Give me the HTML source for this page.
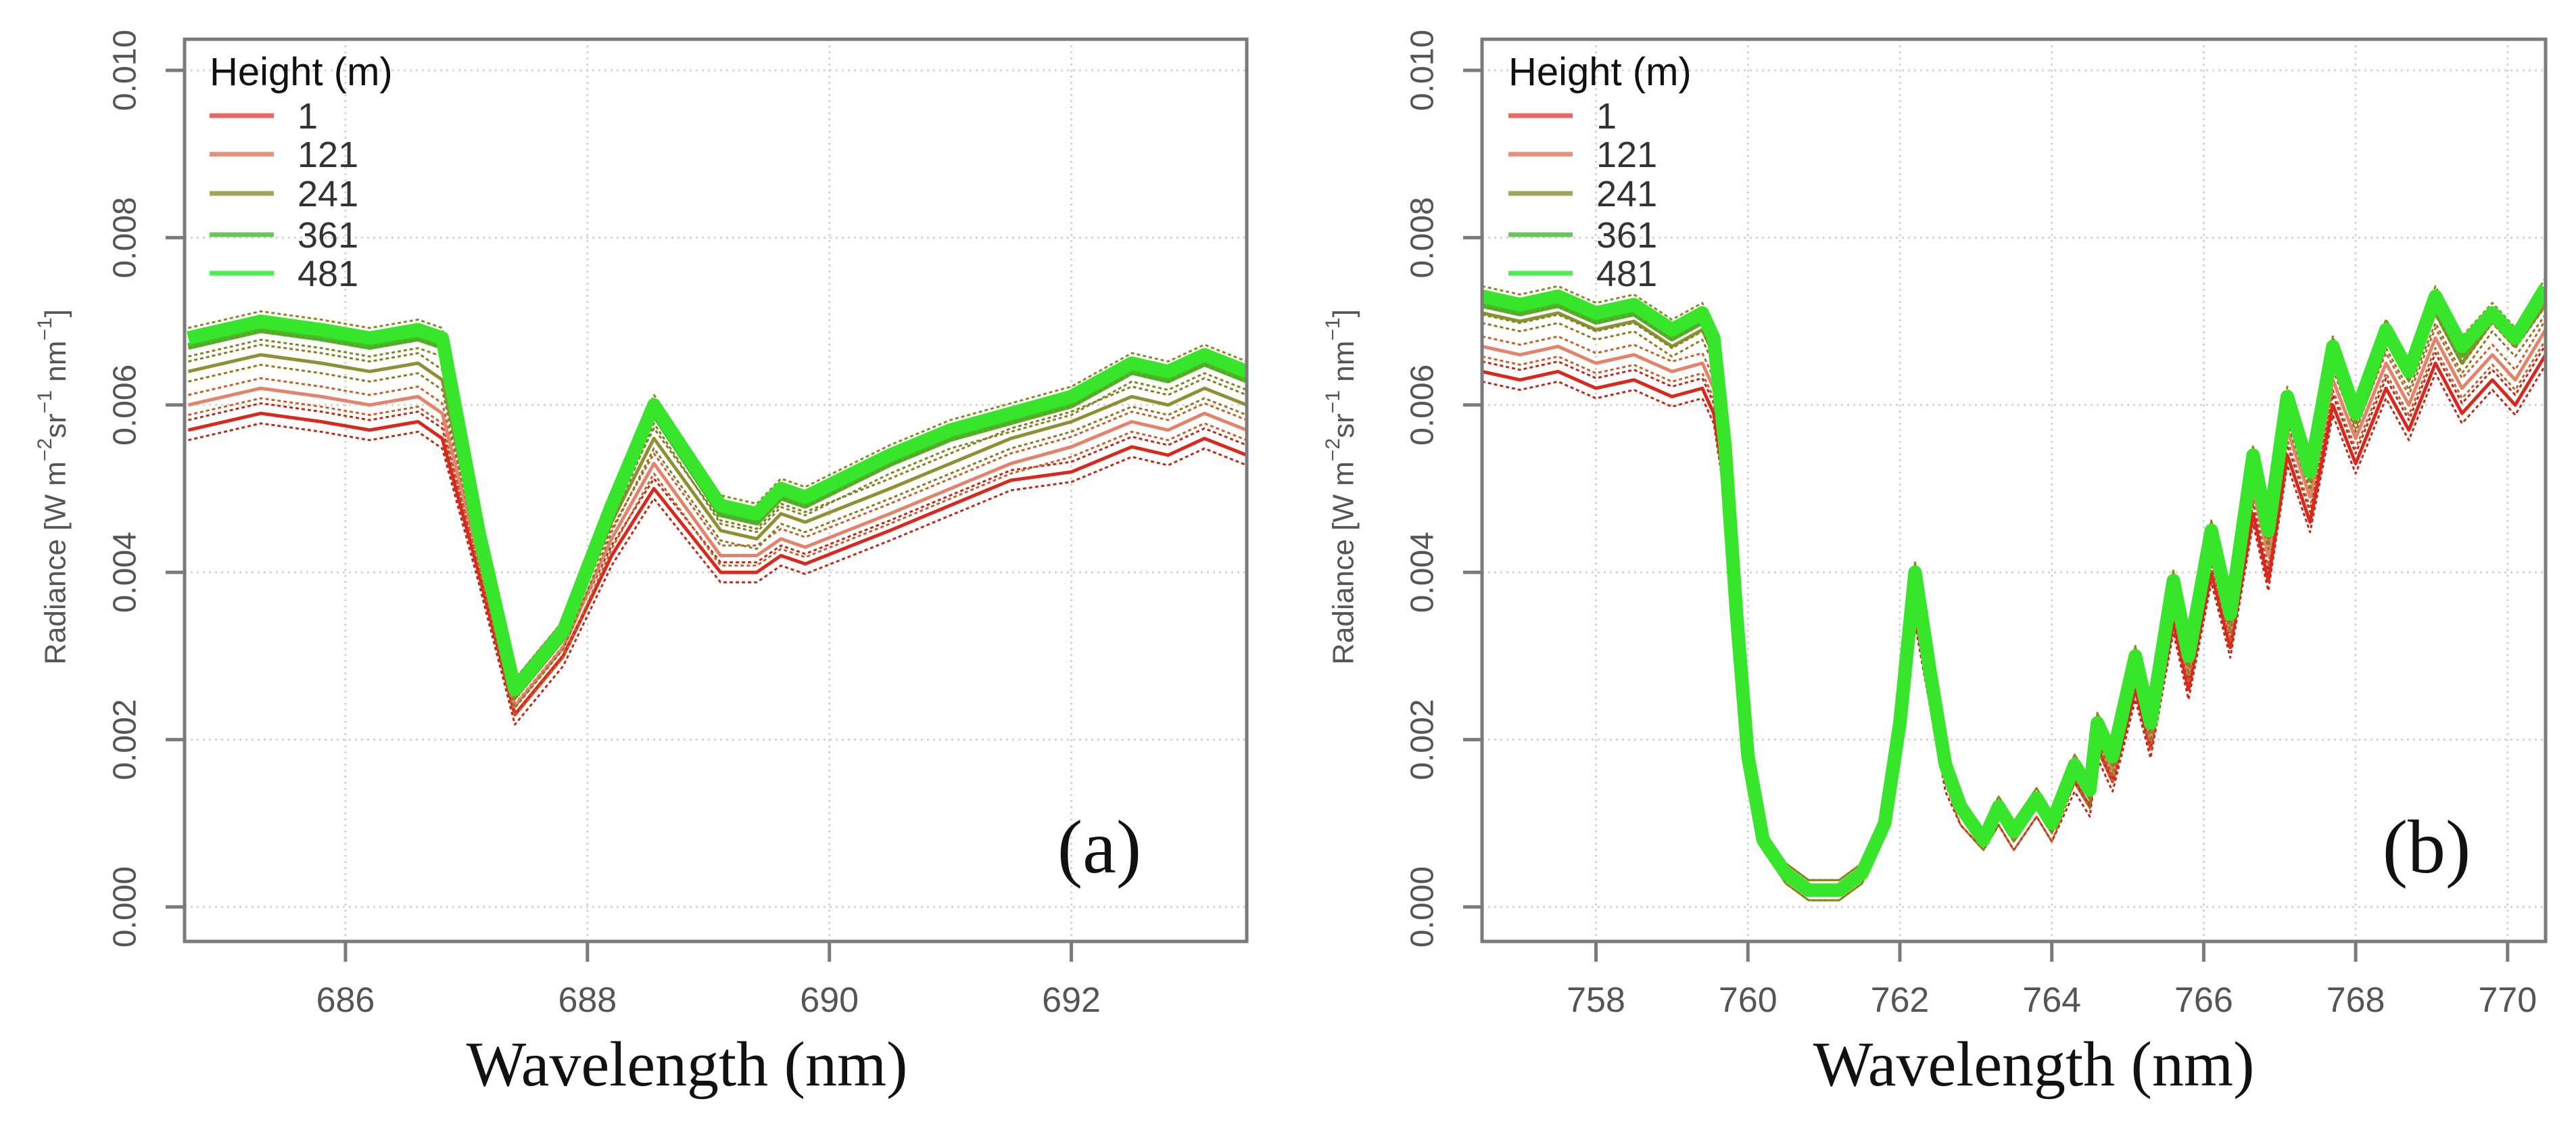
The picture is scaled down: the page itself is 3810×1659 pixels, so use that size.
<!DOCTYPE html>
<html><head><meta charset="utf-8"><style>
html,body{margin:0;padding:0;background:#fff;}
svg{display:block;font-family:"Liberation Sans",Arial,sans-serif;}
</style></head><body>
<svg id="chart" width="3810" height="1659" viewBox="0 0 3810 1659" xmlns="http://www.w3.org/2000/svg"></svg>
<script>
// ---------- Panel (a) data ----------
const wlA = [684.7,685.3,685.8,686.2,686.6,686.8,687.1,687.4,687.8,688.2,688.55,689.1,689.4,689.6,689.8,690.5,691.0,691.5,692.0,692.5,692.8,693.1,693.45];
const a_h1   = [0.0057,0.0059,0.0058,0.0057,0.0058,0.0056,0.0040,0.0023,0.0030,0.0042,0.0050,0.0040,0.0040,0.0042,0.0041,0.0045,0.0048,0.0051,0.0052,0.0055,0.0054,0.0056,0.0054];
const a_h121 = [0.0060,0.0062,0.0061,0.0060,0.0061,0.0059,0.0042,0.0024,0.0031,0.0044,0.0053,0.0042,0.0042,0.0044,0.0043,0.0047,0.0050,0.0053,0.0055,0.0058,0.0057,0.0059,0.0057];
const a_h241 = [0.0064,0.0066,0.0065,0.0064,0.0065,0.0063,0.0043,0.0025,0.0032,0.0046,0.0056,0.0045,0.0044,0.0047,0.0046,0.0050,0.0053,0.0056,0.0058,0.0061,0.0060,0.0062,0.0060];
const a_h361 = [0.0067,0.0069,0.0068,0.0067,0.0068,0.0067,0.0045,0.0026,0.0033,0.0047,0.0059,0.0047,0.0046,0.0049,0.0048,0.0053,0.0056,0.0058,0.0060,0.0064,0.0063,0.0065,0.0063];
const a_h481 = [0.0068,0.0070,0.0069,0.0068,0.0069,0.0068,0.0045,0.0026,0.0033,0.0048,0.0060,0.0048,0.0047,0.0050,0.0049,0.0054,0.0057,0.0059,0.0061,0.0065,0.0064,0.0066,0.0064];
// ---------- Panel (b) data ----------
const wlB = [756.5,757.0,757.5,758.0,758.5,759.0,759.4,759.55,759.7,759.85,760.0,760.2,760.5,760.8,761.2,761.5,761.8,762.0,762.2,762.4,762.6,762.8,763.1,763.3,763.5,763.8,764.0,764.3,764.5,764.6,764.8,765.1,765.3,765.6,765.8,766.1,766.35,766.65,766.85,767.1,767.4,767.7,768.0,768.4,768.7,769.05,769.4,769.8,770.1,770.5];
const b_h1   = [0.0064,0.0063,0.0064,0.0062,0.0063,0.0061,0.0062,0.0059,0.0050,0.0033,0.0017,0.0008,0.0004,0.0002,0.0002,0.0004,0.0010,0.0020,0.0035,0.0025,0.0015,0.0011,0.0008,0.0011,0.0008,0.0012,0.0009,0.0015,0.0012,0.0019,0.0015,0.0026,0.0019,0.0034,0.0026,0.0040,0.0031,0.0047,0.0039,0.0054,0.0046,0.0060,0.0053,0.0062,0.0057,0.0065,0.0059,0.0063,0.0060,0.0066];
const b_h121 = [0.0067,0.0066,0.0067,0.0065,0.0066,0.0064,0.0065,0.0062,0.0052,0.0034,0.0017,0.0008,0.0004,0.0002,0.0002,0.0004,0.0010,0.0021,0.0037,0.0026,0.0016,0.0011,0.0008,0.0011,0.0008,0.0012,0.0009,0.0016,0.0013,0.0020,0.0016,0.0028,0.0020,0.0036,0.0028,0.0042,0.0033,0.0050,0.0042,0.0057,0.0049,0.0063,0.0056,0.0065,0.0060,0.0068,0.0062,0.0066,0.0063,0.0069];
const b_h241 = [0.0071,0.0070,0.0071,0.0069,0.0070,0.0067,0.0069,0.0066,0.0054,0.0035,0.0018,0.0008,0.0004,0.0002,0.0002,0.0004,0.0010,0.0022,0.0039,0.0027,0.0017,0.0012,0.0008,0.0012,0.0009,0.0013,0.0010,0.0017,0.0013,0.0021,0.0017,0.0029,0.0021,0.0038,0.0029,0.0044,0.0034,0.0052,0.0044,0.0059,0.0051,0.0066,0.0058,0.0068,0.0063,0.0071,0.0065,0.0070,0.0067,0.0072];
const b_h361 = [0.0072,0.0071,0.0072,0.0070,0.0071,0.0068,0.0070,0.0067,0.0055,0.0035,0.0018,0.0008,0.0004,0.0002,0.0002,0.0004,0.0010,0.0022,0.0040,0.0028,0.0017,0.0012,0.0008,0.0012,0.0009,0.0013,0.0010,0.0017,0.0014,0.0022,0.0018,0.0030,0.0022,0.0039,0.0030,0.0045,0.0035,0.0053,0.0045,0.0060,0.0052,0.0067,0.0059,0.0069,0.0064,0.0072,0.0066,0.0071,0.0068,0.0073];
const b_h481 = [0.0073,0.0072,0.0073,0.0071,0.0072,0.0069,0.0071,0.0068,0.0055,0.0035,0.0018,0.0008,0.0004,0.0002,0.0002,0.0004,0.0010,0.0022,0.0040,0.0028,0.0017,0.0012,0.0008,0.0012,0.0009,0.0013,0.0010,0.0017,0.0014,0.0022,0.0018,0.0030,0.0022,0.0039,0.0030,0.0045,0.0035,0.0054,0.0045,0.0061,0.0052,0.0067,0.0059,0.0069,0.0064,0.0073,0.0067,0.0071,0.0068,0.0074];
// ---------- Labels ----------
const legendLabels = ["1","121","241","361","481"];
const yTicks = [0,0.002,0.004,0.006,0.008,0.010];
const yTickLabels = ["0.000","0.002","0.004","0.006","0.008","0.010"];
const xTicksA = [686,688,690,692];
const xTicksB = [758,760,762,764,766,768,770];

const NS = "http://www.w3.org/2000/svg";
const svg = document.getElementById('chart');
function mk(tag, attrs, parent){
  const e = document.createElementNS(NS, tag);
  for (const k in attrs) e.setAttribute(k, attrs[k]);
  (parent||svg).appendChild(e);
  return e;
}
const seriesColors = ["#d9281c","#e2836a","#8f8f33","#3cbf2a","#37e62a"];
const envColors = ["#c0281a","#c8602a","#8a7a20","#7a8a20","#8a8a20"];
const legendColors = ["#f06464","#e0957a","#a4a456","#6cc45c","#4cf04c"];

function panel(opt){
  const g = mk('g', {});
  
  
  const L=opt.left, R=opt.right, T=58, B=1392;
  const sx = v => L + (v - opt.xmin)/(opt.xmax - opt.xmin)*(R-L);
  const y0=1341, y10=104;
  const sy = v => y0 + (v/0.010)*(y10-y0);
  yTicks.forEach((t,i)=>{
    const gl = mk('line',{x1:L,x2:R,y1:sy(t),y2:sy(t),stroke:'#d4d4d4','stroke-width':3,'stroke-dasharray':'3 6'},g);
    
    
  });
  opt.xticks.forEach(t=>{
    const gl = mk('line',{x1:sx(t),x2:sx(t),y1:T,y2:B,stroke:'#d4d4d4','stroke-width':3,'stroke-dasharray':'3 6'},g);
    
    
  });
  const clipId = opt.name+'-clip';
  const cp = mk('clipPath',{id:clipId},g);
  mk('rect',{x:L,y:T,width:R-L,height:B-T},cp);
  const sg = mk('g',{'clip-path':'url(#'+clipId+')'},g);
  opt.series.forEach((vals,si)=>{
    const path = (off)=> opt.wl.map((w,i)=>(i?'L':'M')+sx(w).toFixed(1)+' '+sy(vals[i]+off).toFixed(1)).join(' ');
    [0.00012,-0.00012].forEach(off=>{
      const e = mk('path',{d:path(off),fill:'none',stroke:envColors[si],'stroke-width':3,'stroke-dasharray':'5 4','stroke-linejoin':'round'},sg);
      
      
    });
    const ln = mk('path',{d:path(0),fill:'none',stroke:seriesColors[si],'stroke-width':si===4?20:(si===3?10:5),'stroke-linejoin':'round'},sg);
    
    
  });
  const box = mk('rect',{x:L,y:T,width:R-L,height:B-T,fill:'none',stroke:'#7a7a7a','stroke-width':5},g);
  
  
  yTicks.forEach((t,i)=>{
    mk('line',{x1:L-28,x2:L,y1:sy(t),y2:sy(t),stroke:'#7a7a7a','stroke-width':5},g);
    const tx = mk('text',{x:0,y:0,transform:'translate('+(opt.ylabX)+','+sy(t)+') rotate(-90)','text-anchor':'middle','dominant-baseline':'central','font-size':48,fill:'#555'},g);
    tx.textContent = yTickLabels[i];
    
    
  });
  opt.xticks.forEach(t=>{
    mk('line',{x1:sx(t),x2:sx(t),y1:B,y2:B+30,stroke:'#7a7a7a','stroke-width':5},g);
    const tx = mk('text',{x:sx(t),y:1496,'text-anchor':'middle','font-size':52,fill:'#555'},g);
    tx.textContent = String(t);
    
    
  });
  const yt = mk('text',{x:0,y:0,transform:'translate('+opt.ytitleX+',720) rotate(-90)','text-anchor':'middle','dominant-baseline':'central','font-size':44,fill:'#555'},g);
  
  
  yt.innerHTML = 'Radiance [W m<tspan dy="-16" font-size="30">−2</tspan><tspan dy="16">sr</tspan><tspan dy="-16" font-size="30">−1</tspan><tspan dy="16"> nm</tspan><tspan dy="-16" font-size="30">−1</tspan><tspan dy="16">]</tspan>';
  const xt = mk('text',{x:opt.xtitleX,y:1605,'text-anchor':'middle','font-size':94,fill:'#111','font-family':'"Liberation Serif","Times New Roman",serif'},g);
  xt.textContent = 'Wavelength (nm)';
  
  
  const pl = mk('text',{x:opt.tagX,y:1290,'text-anchor':'middle','font-size':112,fill:'#111','font-family':'"Liberation Serif","Times New Roman",serif'},g);
  pl.textContent = opt.tag;
  
  
  const lg = mk('g',{},g);
  
  
  const lt = mk('text',{x:opt.legX,y:126,'font-size':58,fill:'#111'},lg);
  lt.textContent = 'Height (m)';
  
  
  const ly=[171,228,286,347,404];
  legendLabels.forEach((lab,i)=>{
    const e = mk('g',{},lg);
    
    
    mk('line',{x1:opt.legX,x2:opt.legX+95,y1:ly[i],y2:ly[i],stroke:legendColors[i],'stroke-width':7},e);
    const t = mk('text',{x:opt.legX+130,y:ly[i]+19,'font-size':54,fill:'#333'},e);
    t.textContent = lab;
  });
}

panel({name:'panel-a',left:273,right:1844,xmin:684.67,xmax:693.45,wl:wlA,series:[a_h1,a_h121,a_h241,a_h361,a_h481],xticks:xTicksA,ylabX:185,ytitleX:82,xtitleX:1016,tag:'(a)',tagX:1626,legX:310});
panel({name:'panel-b',left:2192,right:3765,xmin:756.5,xmax:770.5,wl:wlB,series:[b_h1,b_h121,b_h241,b_h361,b_h481],xticks:xTicksB,ylabX:2104,ytitleX:1987,xtitleX:3008,tag:'(b)',tagX:3589,legX:2231});
</script>
</body></html>
